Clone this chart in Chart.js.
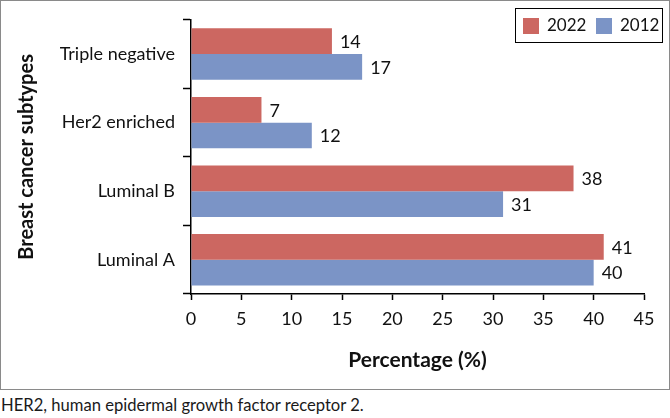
<!DOCTYPE html>
<html>
<head>
<meta charset="utf-8">
<script src="https://cdn.jsdelivr.net/npm/chart.js@4/dist/chart.umd.min.js"></script>
<style>
    body { margin: 0; background: #fff; font-family: Lato, "Open Sans", sans-serif; }
    #box { position: absolute; left: 0; top: 0; width: 668px; height: 388px; border: 1px solid #8a8a8a; }
    #caption { position: absolute; left: 1px; top: 395px; font-size: 16.6px; color: #1a1a1a; }
</style>
</head>
<body>
<div id="box"><canvas id="subtypeChart" width="668" height="388"></canvas></div>
<div id="caption">HER2, human epidermal growth factor receptor 2.</div>
<script>
// data
const subtypes = ['Triple negative', 'Her2 enriched', 'Luminal B', 'Luminal A'];
const pct2022 = [14, 7, 38, 41];
const pct2012 = [17, 12, 31, 40];
const xTicks = [0, 5, 10, 15, 20, 25, 30, 35, 40, 45];

const RED = '#CC6761';
const BLUE = '#7B94C6';
const FONT = 'Lato, "Open Sans", sans-serif';

// value labels at the end of each bar
const barValues = {
    id: 'barValues',
    afterDatasetsDraw(chart) {
        const ctx = chart.ctx;
        ctx.save();
        ctx.font = '18px ' + FONT;
        ctx.fillStyle = '#111';
        ctx.textBaseline = 'middle';
        ctx.textAlign = 'left';
        chart.data.datasets.forEach((ds, i) => {
            chart.getDatasetMeta(i).data.forEach((bar, j) => {
                ctx.fillText(ds.data[j], bar.x + 8, bar.y + 1);
            });
        });
        ctx.restore();
    }
};

// boxed legend in the top right corner
const boxLegend = {
    id: 'boxLegend',
    afterDraw(chart) {
        const ctx = chart.ctx;
        const left = 514, top = 7, w = 147, h = 34;
        ctx.save();
        ctx.strokeStyle = '#000';
        ctx.lineWidth = 1;
        ctx.fillStyle = '#fff';
        ctx.fillRect(left, top, w, h);
        ctx.strokeRect(left + 0.5, top + 0.5, w, h);
        ctx.font = '17px ' + FONT;
        ctx.textBaseline = 'middle';
        let x = left + 8;
        chart.data.datasets.forEach(ds => {
            ctx.fillStyle = ds.backgroundColor;
            ctx.fillRect(x, top + 10, 16, 16);
            ctx.fillStyle = '#111';
            ctx.fillText(ds.label, x + 24, top + 18);
            x += 73;
        });
        ctx.restore();
    }
};

new Chart(document.getElementById('subtypeChart'), {
    type: 'bar',
    data: {
        labels: subtypes,
        datasets: [
            { label: '2022', data: pct2022, backgroundColor: RED },
            { label: '2012', data: pct2012, backgroundColor: BLUE }
        ]
    },
    options: {
        indexAxis: 'y',
        responsive: false,
        animation: false,
        categoryPercentage: 0.75,
        barPercentage: 1,
        layout: { padding: { top: 15, right: 25, left: 0, bottom: 0 } },
        plugins: {
            legend: { display: false },
            tooltip: { enabled: false }
        },
        scales: {
            x: {
                min: 0,
                max: 45,
                afterBuildTicks: (s) => { s.ticks = xTicks.map(v => ({ value: v })); },
                afterFit: (s) => { s.height = 95; },
                grid: { drawOnChartArea: false, tickLength: 6, color: '#000', tickWidth: 1.5 },
                border: { color: '#000', width: 1.5 },
                ticks: { color: '#111', font: { family: FONT, size: 18 }, padding: 8, maxRotation: 0 },
                title: {
                    display: true,
                    text: 'Percentage (%)',
                    color: '#111',
                    font: { family: FONT, size: 21, weight: 'bold' },
                    padding: { top: 0, bottom: 16 }
                }
            },
            y: {
                afterFit: (s) => { s.width = 190; },
                grid: { drawOnChartArea: false, tickLength: 8, color: '#000', tickWidth: 1.5, offset: true },
                border: { color: '#000', width: 1.5 },
                ticks: { color: '#111', font: { family: FONT, size: 18 }, padding: 8 },
                title: {
                    display: true,
                    text: 'Breast cancer subtypes',
                    color: '#111',
                    font: { family: FONT, size: 20, weight: 'bold' },
                    padding: { top: 14, bottom: 0 }
                }
            }
        }
    },
    plugins: [barValues, boxLegend]
});
</script>
</body>
</html>
